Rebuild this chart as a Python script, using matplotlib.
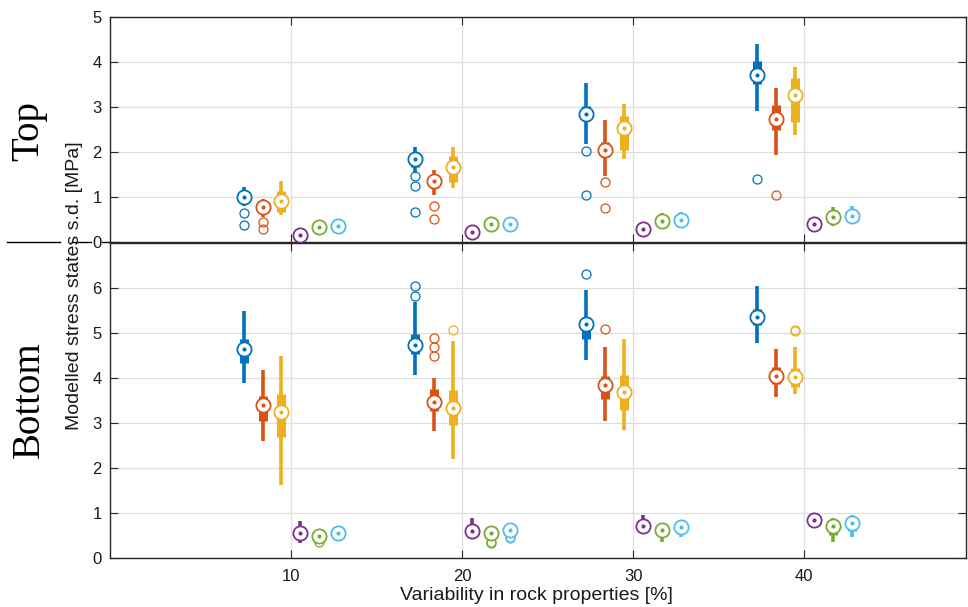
import numpy as np
import matplotlib.pyplot as plt
from matplotlib.lines import Line2D

plt.rcParams['font.family'] = ['Liberation Sans', 'DejaVu Sans']

groups = [10, 20, 30, 40]
colors = ['#0072BD', '#D95319', '#EDB120', '#7E2F8E', '#77AC30', '#4DBEEE']

# rows = series (blue, red, yellow, purple, green, cyan), columns = groups
top_lo = [[0.80, 1.53, 2.18, 2.91],
          [0.56, 1.04, 1.47, 1.93],
          [0.60, 1.19, 1.84, 2.38],
          [0.12, 0.18, 0.25, 0.33],
          [0.30, 0.34, 0.31, 0.36],
          [0.32, 0.35, 0.42, 0.41]]
top_q1 = [[0.90, 1.67, 2.70, 3.51],
          [0.70, 1.20, 1.88, 2.50],
          [0.67, 1.34, 2.05, 2.66],
          [0.14, 0.20, 0.28, 0.36],
          [0.32, 0.37, 0.40, 0.45],
          [0.34, 0.38, 0.45, 0.50]]
top_med = [[1.01, 1.84, 2.84, 3.71],
           [0.78, 1.35, 2.05, 2.73],
           [0.91, 1.67, 2.53, 3.27],
           [0.16, 0.22, 0.30, 0.39],
           [0.34, 0.39, 0.47, 0.55],
           [0.36, 0.40, 0.50, 0.58]]
top_q3 = [[1.11, 1.97, 3.02, 4.02],
          [0.87, 1.49, 2.23, 3.05],
          [1.14, 1.91, 2.79, 3.64],
          [0.18, 0.24, 0.33, 0.42],
          [0.36, 0.41, 0.55, 0.64],
          [0.38, 0.42, 0.56, 0.68]]
top_hi = [[1.22, 2.11, 3.54, 4.41],
          [0.95, 1.61, 2.71, 3.42],
          [1.36, 2.12, 3.06, 3.88],
          [0.20, 0.26, 0.36, 0.45],
          [0.39, 0.44, 0.64, 0.77],
          [0.40, 0.45, 0.67, 0.81]]
top_out = [[[0.64, 0.37], [1.47, 1.24, 0.67], [2.03, 1.04], [1.41]],
           [[0.44, 0.29], [0.81, 0.51], [1.34, 0.76], [1.04]],
           [[], [], [], []],
           [[], [], [], []],
           [[], [], [], []],
           [[], [], [], []]]

bot_lo = [[3.90, 4.07, 4.41, 4.77],
          [2.60, 2.82, 3.05, 3.58],
          [1.63, 2.20, 2.85, 3.64],
          [0.33, 0.42, 0.55, 0.66],
          [0.42, 0.40, 0.36, 0.36],
          [0.50, 0.52, 0.47, 0.47]]
bot_q1 = [[4.33, 4.54, 4.86, 5.18],
          [3.04, 3.27, 3.53, 3.86],
          [2.69, 2.96, 3.29, 3.81],
          [0.44, 0.51, 0.58, 0.74],
          [0.45, 0.47, 0.51, 0.51],
          [0.53, 0.57, 0.60, 0.60]]
bot_med = [[4.65, 4.74, 5.19, 5.35],
           [3.39, 3.47, 3.84, 4.04],
           [3.24, 3.33, 3.68, 4.02],
           [0.56, 0.61, 0.72, 0.84],
           [0.49, 0.55, 0.63, 0.72],
           [0.56, 0.62, 0.69, 0.78]]
bot_q3 = [[4.87, 4.98, 5.35, 5.54],
          [3.59, 3.75, 4.04, 4.24],
          [3.65, 3.74, 4.07, 4.22],
          [0.69, 0.73, 0.82, 0.92],
          [0.53, 0.60, 0.72, 0.80],
          [0.59, 0.66, 0.76, 0.88]]
bot_hi = [[5.48, 5.68, 5.96, 6.05],
          [4.18, 4.01, 4.69, 4.65],
          [4.49, 4.83, 4.86, 4.70],
          [0.83, 0.89, 0.95, 1.00],
          [0.56, 0.64, 0.75, 0.88],
          [0.62, 0.70, 0.80, 0.95]]
bot_out = [[[], [6.05, 5.82], [6.31], []],
           [[], [4.88, 4.70, 4.49], [5.09], []],
           [[], [5.07], [], [5.07, 5.04]],
           [[], [], [], []],
           [[0.35], [0.36, 0.34], [], []],
           [[], [0.47, 0.45], [], []]]


def draw_panel(ax, lo, q1, med, q3, hi, out):
    for s in range(6):
        xs = np.array(groups) + (s - 2.5) * 1.11
        c = colors[s]
        ax.vlines(xs, lo[s], hi[s], color=c, lw=2.6, capstyle='butt', zorder=3)
        ax.vlines(xs, q1[s], q3[s], color=c, lw=6.5, capstyle='butt', zorder=3)
        for g in range(len(groups)):
            ys = out[s][g]
            ax.plot([xs[g]] * len(ys), ys, 'o', mfc='none', mec=c, ms=6.5,
                    mew=0.9, zorder=3)
        ax.scatter(xs, med[s], s=105, facecolor='white', edgecolor=c, lw=1.3, zorder=4)
        ax.scatter(xs, med[s], s=9, color=c, lw=0, zorder=5)


def style(ax):
    ax.set_xlim(-0.58, 49.46)
    ax.set_xticks(groups)
    ax.grid(True, color='#dedede', lw=0.9)
    ax.set_axisbelow(True)
    ax.tick_params(direction='in', top=True, right=True, length=6, width=0.8,
                   color='#262626', labelsize=12, labelcolor='#1a1a1a')
    ax.tick_params(axis='x', pad=8)
    ax.tick_params(axis='y', pad=6)
    for sp in ax.spines.values():
        sp.set_color('#262626')
        sp.set_linewidth(1.0)


W, H = 968, 607
fig = plt.figure(figsize=(W / 100, H / 100), dpi=100)
ax_top = fig.add_axes([110 / W, (H - 242) / H, 856 / W, 225 / H])
ax_bot = fig.add_axes([110 / W, (H - 558) / H, 856 / W, 315 / H])

draw_panel(ax_top, top_lo, top_q1, top_med, top_q3, top_hi, top_out)
draw_panel(ax_bot, bot_lo, bot_q1, bot_med, bot_q3, bot_hi, bot_out)

style(ax_top)
style(ax_bot)
ax_top.set_ylim(0, 5)
ax_top.set_yticks(range(6))
ax_top.tick_params(labelbottom=False)
ax_bot.set_ylim(0, 7)
ax_bot.set_yticks(range(7))

fig.canvas.draw()
for lbl in ax_top.get_yticklabels():
    if lbl.get_text() == '0':
        lbl.set_bbox(dict(facecolor='white', edgecolor='none', pad=0.3))

# separator between the two panels
ysep = (H - 242) / H
fig.add_artist(Line2D([7 / W, 60 / W], [ysep, ysep], transform=fig.transFigure,
                      color='black', lw=1.0, zorder=-1))
fig.add_artist(Line2D([73 / W, 112 / W], [ysep, ysep], transform=fig.transFigure,
                      color='black', lw=1.0, zorder=-1))

fig.text(75 / W, (H - 286) / H, 'Modelled stress states s.d. [MPa]', rotation=90,
         ha='center', va='center', fontsize=14, color='#1a1a1a')
fig.text(536 / W, (H - 600) / H, 'Variability in rock properties [%]',
         ha='center', va='baseline', fontsize=14, color='#1a1a1a')
fig.text(29 / W, (H - 131) / H, 'Top', rotation=90, ha='center', va='center',
         fontsize=28, family=['Liberation Serif', 'DejaVu Serif'])
fig.text(29 / W, (H - 400) / H, 'Bottom', rotation=90, ha='center', va='center',
         fontsize=28, family=['Liberation Serif', 'DejaVu Serif'])

fig.savefig('out.png', dpi=100)
